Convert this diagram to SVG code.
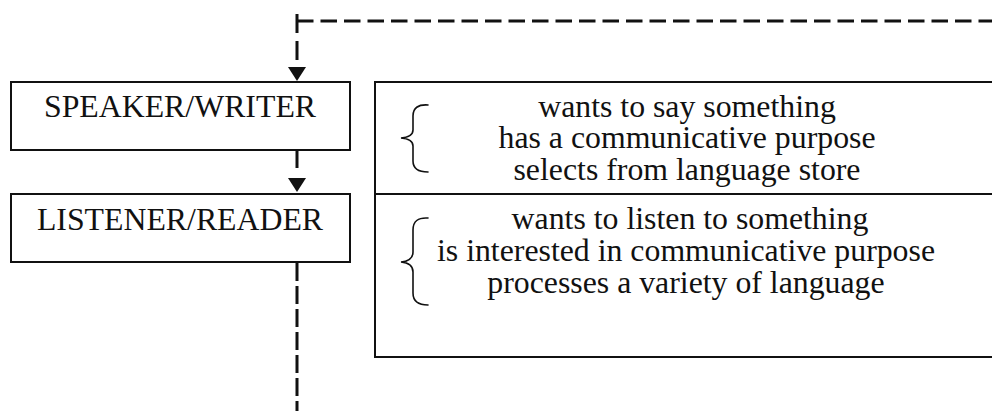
<svg xmlns="http://www.w3.org/2000/svg" width="992" height="411" viewBox="0 0 992 411">
<defs>
<style>
.box{fill:#fff;stroke:#111;stroke-width:2}
.lbl{font-family:"Liberation Serif","Times New Roman",serif;font-size:31.8px;fill:#111;text-anchor:middle}
.txt{font-family:"Liberation Serif","Times New Roman",serif;font-size:31.8px;fill:#111;text-anchor:middle}
.dash{fill:none;stroke:#111;stroke-width:3}
.brace{fill:none;stroke:#111;stroke-width:1.6;stroke-linecap:round}
</style>
<marker id="arr" markerUnits="userSpaceOnUse" markerWidth="16" markerHeight="20" refX="0" refY="9" orient="auto" viewBox="0 0 16 20">
<path d="M0,0 L14,9 L0,18 Z" fill="#111"/>
</marker>
</defs>
<rect width="992" height="411" fill="#fff"/>
<g id="connectors">
<line class="dash" x1="297" y1="21" x2="995" y2="21" stroke-dasharray="16.5 7"/>
<line class="dash" x1="297" y1="14" x2="297" y2="67" stroke-dasharray="19 8" marker-end="url(#arr)"/>
<line class="dash" x1="297" y1="150" x2="297" y2="178" stroke-dasharray="18 10" marker-end="url(#arr)"/>
<line class="dash" x1="297" y1="263" x2="297" y2="415" stroke-dasharray="18 5"/>
</g>
<g id="speaker">
<rect class="box" x="11" y="82" width="339" height="68"/>
<text class="lbl" x="180" y="117">SPEAKER/WRITER</text>
</g>
<g id="listener">
<rect class="box" x="11" y="194" width="339" height="68"/>
<text class="lbl" x="180" y="230">LISTENER/READER</text>
</g>
<g id="description">
<rect class="box" x="375" y="82" width="640" height="275"/>
<line x1="375" y1="194" x2="995" y2="194" stroke="#111" stroke-width="2"/>
</g>
<g id="speaker-traits">
<path class="brace" d="M428,105 Q413,104 413,116 V130 Q413,137 401,138 Q413,139 413,146 V161 Q413,172 428,172"/>
<text class="txt" x="687" y="117">wants to say something</text>
<text class="txt" x="687" y="148">has a communicative purpose</text>
<text class="txt" x="687" y="180">selects from language store</text>
</g>
<g id="listener-traits">
<path class="brace" d="M428,218 Q413,217 413,230 V252 Q413,261 401,262 Q413,263 413,272 V293 Q413,305 428,305"/>
<text class="txt" x="690" y="229">wants to listen to something</text>
<text class="txt" x="686" y="261">is interested in communicative purpose</text>
<text class="txt" x="686" y="293">processes a variety of language</text>
</g>
</svg>
